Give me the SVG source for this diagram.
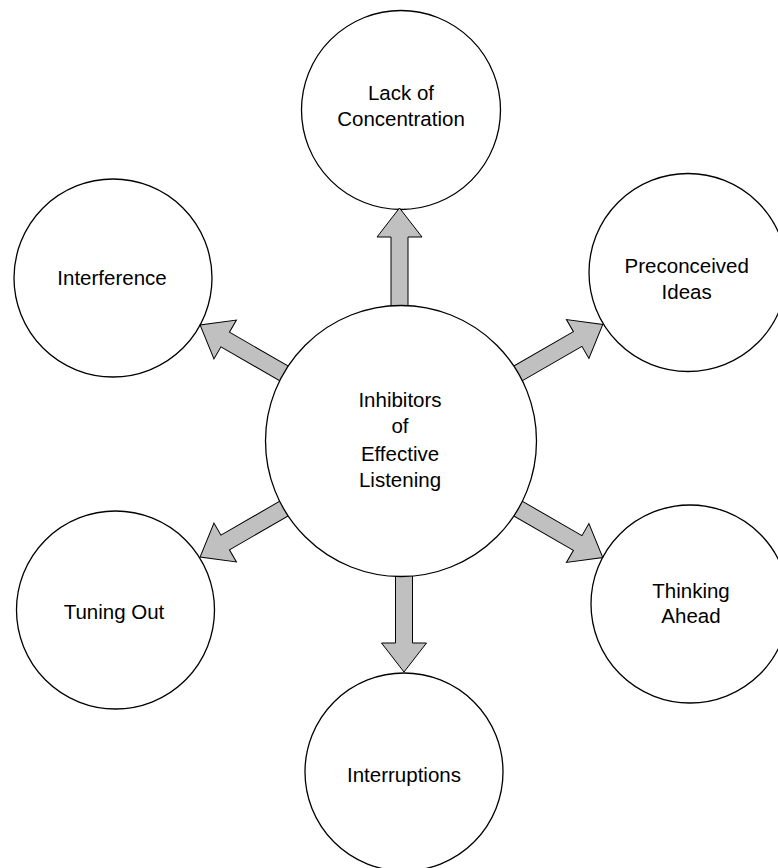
<svg xmlns="http://www.w3.org/2000/svg" width="778" height="868" viewBox="0 0 778 868">
  <style>
    .node { fill: #ffffff; stroke: #000000; stroke-width: 1.3; }
    .arrow { fill: #c0c0c0; stroke: #000000; stroke-width: 1; stroke-linejoin: miter; }
    text { font-family: "Liberation Sans", Arial, Helvetica, sans-serif; font-size: 20.5px; fill: #000000; text-anchor: middle; }
  </style>
  <defs>
    <polygon id="arrowShape" points="110,-8.5 204,-8.5 204,-22.5 233,0 204,22.5 204,8.5 110,8.5"/>
  </defs>
  <rect x="0" y="0" width="778" height="868" fill="#ffffff"/>

  <g id="node-lack-of-concentration">
    <circle class="node" cx="401" cy="110" r="99.5"/>
    <text x="401" y="100">Lack of</text>
    <text x="401" y="125.7">Concentration</text>
  </g>
  <g id="node-preconceived-ideas">
    <circle class="node" cx="688" cy="272.5" r="99"/>
    <text x="686.7" y="273.3">Preconceived</text>
    <text x="686.7" y="299">Ideas</text>
  </g>
  <g id="node-thinking-ahead">
    <circle class="node" cx="690" cy="604" r="99"/>
    <text x="691" y="598.3">Thinking</text>
    <text x="691" y="623.3">Ahead</text>
  </g>
  <g id="node-interruptions">
    <circle class="node" cx="404" cy="772" r="99"/>
    <text x="404" y="781.7">Interruptions</text>
  </g>
  <g id="node-tuning-out">
    <circle class="node" cx="115.5" cy="610" r="99"/>
    <text x="114" y="619.3">Tuning Out</text>
  </g>
  <g id="node-interference">
    <circle class="node" cx="113" cy="278" r="99"/>
    <text x="112" y="285">Interference</text>
  </g>

  <g id="connectors">
    <use href="#arrowShape" class="arrow" transform="translate(399.5,441) rotate(-90)"/>
    <use href="#arrowShape" class="arrow" transform="translate(401,441) rotate(-30)"/>
    <use href="#arrowShape" class="arrow" transform="translate(401,441) rotate(30)"/>
    <use href="#arrowShape" class="arrow" transform="translate(404,441) rotate(90) translate(-2,0)"/>
    <use href="#arrowShape" class="arrow" transform="translate(401,441) rotate(150) translate(-1,0)"/>
    <use href="#arrowShape" class="arrow" transform="translate(401,441) rotate(-150) translate(-1,0)"/>
  </g>

  <g id="node-inhibitors">
    <circle class="node" cx="401" cy="441" r="135.5"/>
    <text x="400" y="406.7">Inhibitors</text>
    <text x="400" y="433.3">of</text>
    <text x="400" y="460.7">Effective</text>
    <text x="400" y="486.7">Listening</text>
  </g>
</svg>
